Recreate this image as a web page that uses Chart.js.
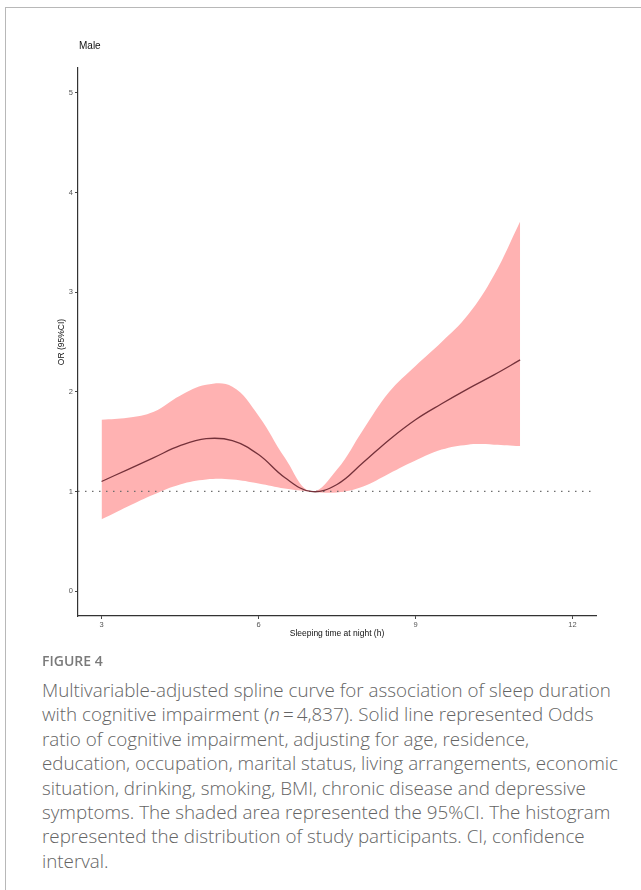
<!DOCTYPE html>
<html>
<head>
<meta charset="utf-8">
<script src="https://cdn.jsdelivr.net/npm/chart.js@4.4.1/dist/chart.umd.min.js"></script>
<style>
    html, body { margin: 0; padding: 0; background: #fff; }
    body { width: 641px; height: 890px; position: relative; overflow: hidden; }
    .frame { position: absolute; left: 5px; top: 7px; width: 700px; height: 900px;
             border-top: 1px solid #b8b8b8; border-left: 1px solid #b8b8b8; }
    #wrap { position: absolute; left: 0; top: 0; width: 641px; height: 655px; }
    .panel { position: absolute; left: 79px; top: 40px; font: 10px "Liberation Sans", Arial, sans-serif; color: #111; }
    .fig { position: absolute; left: 42px; top: 651px; font: 600 14px/19px "Open Sans", sans-serif; color: #7a7a7a; }
    .caption { position: absolute; left: 42px; top: 678px; font: 300 18.8px/24.4px "Open Sans", sans-serif; color: #646464; white-space: nowrap; }
</style>
</head>
<body>
<div class="frame"></div>
<div id="wrap"><canvas id="splineChart" width="641" height="655"></canvas></div>
<div class="panel">Male</div>
<div class="fig">FIGURE 4</div>
<div class="caption">
Multivariable-adjusted spline curve for association of sleep duration<br>
with cognitive impairment (<i>n</i>&thinsp;=&thinsp;4,837). Solid line represented Odds<br>
ratio of cognitive impairment, adjusting for age, residence,<br>
education, occupation, marital status, living arrangements, economic<br>
situation, drinking, smoking, BMI, chronic disease and depressive<br>
symptoms. The shaded area represented the 95%CI. The histogram<br>
represented the distribution of study participants. CI, confidence<br>
interval.
</div>
<script>
// sleeping hours and odds ratio
const hours = [3, 3.5, 4, 4.5, 5, 5.5, 6, 6.5, 7, 7.5, 8, 8.5, 9, 9.5, 10, 10.5, 11];
const orValues = [1.10, 1.22, 1.34, 1.46, 1.53, 1.51, 1.37, 1.14, 1.00, 1.07, 1.29, 1.52, 1.72, 1.88, 2.03, 2.17, 2.32];
const ciUpper = [1.72, 1.74, 1.80, 1.96, 2.07, 2.05, 1.76, 1.34, 1.00, 1.22, 1.62, 2.00, 2.26, 2.50, 2.77, 3.17, 3.71];
const ciLower = [0.72, 0.85, 0.97, 1.07, 1.12, 1.12, 1.08, 1.03, 1.00, 0.99, 1.05, 1.18, 1.31, 1.42, 1.47, 1.47, 1.455];
const xTicks = [3, 6, 9, 12];
const yTicks = [0, 1, 2, 3, 4, 5];
const xRange = [2.55, 12.45];
const yRange = [-0.25, 5.25];
const refLine = 1;

const pts = arr => hours.map((h, i) => ({ x: h, y: arr[i] }));

const tickFont = { family: 'Liberation Sans', size: 7.5 };
const titleFont = { family: 'Liberation Sans', size: 8.5 };

new Chart(document.getElementById('splineChart').getContext('2d'), {
    type: 'line',
    data: {
        datasets: [
            {
                label: 'upper',
                data: pts(ciUpper),
                borderWidth: 0,
                pointRadius: 0,
                backgroundColor: 'rgb(255, 178, 178)',
                fill: '+1',
                tension: 0.4,
                order: 3
            },
            {
                label: 'lower',
                data: pts(ciLower),
                borderWidth: 0,
                pointRadius: 0,
                fill: false,
                tension: 0.4,
                order: 3
            },
            {
                label: 'ref',
                data: xRange.map(x => ({ x, y: refLine })),
                borderColor: '#6e6e6e',
                borderWidth: 1.3,
                borderDash: [1.5, 5.5],
                pointRadius: 0,
                fill: false,
                order: 1
            },
            {
                label: 'OR',
                data: pts(orValues),
                borderColor: '#74313a',
                borderWidth: 1.3,
                pointRadius: 0,
                fill: false,
                tension: 0.4,
                order: 0
            }
        ]
    },
    options: {
        responsive: false,
        animation: false,
        layout: { padding: { left: 50, top: 68, right: 45, bottom: 0 } },
        plugins: { legend: { display: false }, tooltip: { enabled: false } },
        scales: {
            x: {
                type: 'linear',
                min: xRange[0],
                max: xRange[1],
                afterBuildTicks: s => { s.ticks = xTicks.map(v => ({ value: v })); },
                afterFit: s => { s.height = 39; },
                ticks: { color: '#555', font: tickFont, padding: 1, maxRotation: 0 },
                grid: { drawOnChartArea: false, drawTicks: true, tickLength: 3, color: '#444' },
                border: { display: true, color: '#333', width: 1.2 },
                title: { display: true, text: 'Sleeping time at night (h)', color: '#111', font: titleFont, padding: { top: 2, bottom: 16 } }
            },
            y: {
                type: 'linear',
                min: yRange[0],
                max: yRange[1],
                afterBuildTicks: s => { s.ticks = yTicks.map(v => ({ value: v })); },
                afterFit: s => { s.width = 28; },
                ticks: { color: '#555', font: tickFont, padding: 2 },
                grid: { drawOnChartArea: false, drawTicks: true, tickLength: 3, color: '#444' },
                border: { display: true, color: '#333', width: 1.2 },
                title: { display: true, text: 'OR (95%CI)', color: '#111', font: titleFont, padding: { top: 7, bottom: 4 } }
            }
        }
    }
});
</script>
</body>
</html>
